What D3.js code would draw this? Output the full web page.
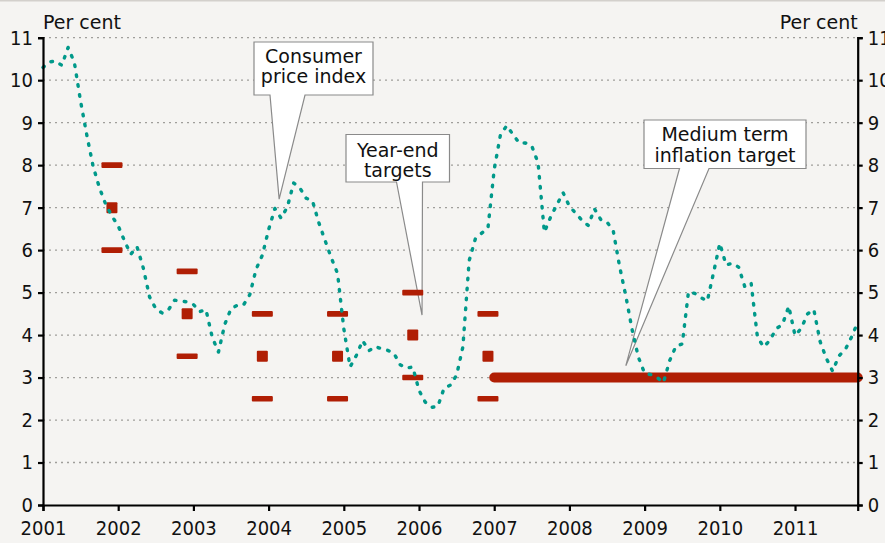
<!DOCTYPE html>
<html>
<head>
<meta charset="utf-8">
<script src="https://cdn.jsdelivr.net/npm/d3@7"></script>
<style>
  html, body { margin: 0; padding: 0; background: #f5f4f2; }
  svg { display: block; }
  text { font-family: "DejaVu Sans", Verdana, sans-serif; fill: #111; }
</style>
</head>
<body>
<div id="chart"></div>
<script>
// ---- Data ----
const startYear = 2001;             // first monthly observation: January 2001
const cpi = [                        // 12-month CPI inflation, per cent, Jan 2001 - Nov 2011
  10.3, 10.43, 10.45, 10.35, 10.77, 10.42, 9.5, 8.7, 7.97, 7.47, 7.08, 6.8,
  6.57, 6.22, 5.9, 6.08, 5.58, 4.9, 4.62, 4.52, 4.59, 4.82, 4.8, 4.78,
  4.72, 4.55, 4.6, 3.95, 3.6, 4.25, 4.62, 4.7, 4.71, 4.95, 5.55, 5.88,
  6.48, 6.98, 6.75, 7.02, 7.58, 7.46, 7.22, 7.16, 6.65, 6.23, 5.82, 5.45,
  4.15, 3.25, 3.52, 3.87, 3.63, 3.73, 3.68, 3.64, 3.57, 3.3, 3.22, 3.25,
  2.7, 2.42, 2.3, 2.32, 2.75, 2.82, 3.06, 3.72, 5.75, 6.27, 6.4, 6.52,
  7.9, 8.72, 8.93, 8.72, 8.52, 8.52, 8.45, 8.05, 6.42, 6.78, 7.07, 7.35,
  7.03, 6.87, 6.7, 6.58, 6.97, 6.72, 6.66, 6.45, 5.62, 4.92, 4.13, 3.48,
  3.1, 3.07, 3.0, 2.88, 3.4, 3.74, 3.79, 5.02, 4.98, 4.88, 4.8, 5.47,
  6.16, 5.65, 5.69, 5.6, 5.13, 5.22, 3.95, 3.72, 3.88, 4.15, 4.25, 4.68,
  3.99, 4.16, 4.5, 4.6, 3.85, 3.45, 3.15, 3.51, 3.65, 3.95, 4.3
];
const targetYears  = [2001, 2002, 2003, 2004, 2005, 2006];   // year-end (December) targets
const targetCentre = [7, 4.5, 3.5, 3.5, 4, 3.5];
const targetLow    = [6, 3.5, 2.5, 2.5, 3, 2.5];
const targetHigh   = [8, 5.5, 4.5, 4.5, 5, 4.5];
const mediumTarget = 3;
const mediumFrom = 2007;
const xTicks = [2001, 2002, 2003, 2004, 2005, 2006, 2007, 2008, 2009, 2010, 2011];
const yTicks = [0, 1, 2, 3, 4, 5, 6, 7, 8, 9, 10, 11];
const unitLabel = "Per cent";
const callouts = [
  { lines: ["Consumer", "price index"], tip: [2004.14, 7.2] },
  { lines: ["Year-end", "targets"], tip: [2006.04, 4.47] },
  { lines: ["Medium term", "inflation target"], tip: [2008.75, 3.28] }
];

// ---- Layout ----
const W = 885, H = 543;
const m = { left: 43, right: 885 - 857.7, top: 37.7, bottom: 543 - 505 };
const lastT = startYear + (cpi.length - 1) / 12;

const svg = d3.select("#chart").append("svg").attr("width", W).attr("height", H);
svg.append("rect").attr("width", W).attr("height", H).attr("fill", "#f5f4f2");
svg.append("line").attr("x1", 0).attr("x2", W).attr("y1", 0.75).attr("y2", 0.75)
  .attr("stroke", "#d3d0cc").attr("stroke-width", 1.5);

const x = d3.scaleLinear().domain([startYear, lastT]).range([m.left, W - m.right]);
const y = d3.scaleLinear().domain([0, 11]).range([H - m.bottom, m.top]);

// gridlines
svg.append("g").selectAll("line").data(yTicks.filter(d => d > 0)).join("line")
  .attr("x1", x.range()[0]).attr("x2", x.range()[1])
  .attr("y1", d => y(d)).attr("y2", d => y(d))
  .attr("stroke", "#a09e9b").attr("stroke-width", 1.3)
  .attr("stroke-dasharray", "2,4");

// callouts (box positions are layout, tips point into the data)
const boxes = [
  { x0: 254, y0: 42, x1: 373, y1: 95, b0: 270, b1: 305, ty: [62.5, 83] },
  { x0: 346, y0: 134.5, x1: 449.5, y1: 182, b0: 396.5, b1: 422.5, ty: [157, 177] },
  { x0: 644, y0: 120, x1: 806, y1: 168.5, b0: 679.5, b1: 709, ty: [141, 161.5] }
];
callouts.forEach((c, i) => {
  const b = boxes[i];
  const tx = x(c.tip[0]), ty = y(c.tip[1]);
  const p = `M${b.x0},${b.y0}H${b.x1}V${b.y1}H${b.b1}L${tx},${ty}L${b.b0},${b.y1}H${b.x0}Z`;
  svg.append("path").attr("d", p).attr("fill", "#fff")
    .attr("stroke", "#8a8a8a").attr("stroke-width", 1.2).attr("stroke-linejoin", "miter");
  c.lines.forEach((t, j) => {
    svg.append("text").attr("x", (b.x0 + b.x1) / 2).attr("y", b.ty[j])
      .attr("text-anchor", "middle").attr("font-size", 19).text(t);
  });
});

// year-end targets
const tg = svg.append("g").attr("fill", "#b01e04");
targetYears.forEach((yr, i) => {
  const cx = x(yr + 11 / 12);
  [targetLow[i], targetHigh[i]].forEach(v => {
    tg.append("rect").attr("x", cx - 10.5).attr("y", y(v) - 2.8)
      .attr("width", 21).attr("height", 5.6).attr("rx", 1);
  });
  tg.append("rect").attr("x", cx - 5.5).attr("y", y(targetCentre[i]) - 5.5)
    .attr("width", 11).attr("height", 11).attr("rx", 1);
});

// medium term target
svg.append("line")
  .attr("x1", x(mediumFrom)).attr("x2", x(lastT))
  .attr("y1", y(mediumTarget)).attr("y2", y(mediumTarget))
  .attr("stroke", "#b01e04").attr("stroke-width", 10).attr("stroke-linecap", "round");

// CPI dotted line
const line = d3.line().x((d, i) => x(startYear + i / 12)).y(d => y(d));
svg.append("path").datum(cpi).attr("d", line)
  .attr("fill", "none").attr("stroke", "#00998a").attr("stroke-width", 3.4)
  .attr("stroke-linecap", "round").attr("stroke-linejoin", "round")
  .attr("stroke-dasharray", "1.6,8.4");

// axes
const axStyle = g => {
  g.selectAll("path.domain").attr("stroke", "#000").attr("stroke-width", 2.2);
  g.selectAll(".tick line").attr("stroke", "#000").attr("stroke-width", 2.2);
  g.selectAll(".tick text").attr("font-size", 20).attr("fill", "#111")
    .attr("font-family", "'DejaVu Sans Condensed', 'DejaVu Sans', sans-serif")
    .style("font-stretch", "condensed");
};
svg.append("g").attr("transform", `translate(0,${y(0)})`)
  .call(d3.axisBottom(x).tickValues(xTicks).tickFormat(d3.format("d")).tickSizeOuter(0).tickSize(6).tickPadding(10))
  .call(axStyle);
svg.append("g").attr("transform", `translate(${x.range()[0]},0)`)
  .call(d3.axisLeft(y).tickValues(yTicks).tickSizeOuter(0).tickSize(5).tickPadding(5))
  .call(axStyle);
svg.append("g").attr("transform", `translate(${x.range()[1]},0)`)
  .call(d3.axisRight(y).tickValues(yTicks).tickSizeOuter(0).tickSize(5).tickPadding(5))
  .call(axStyle);

// unit labels
svg.append("text").attr("x", x.range()[0]).attr("y", 29).attr("font-size", 19).text(unitLabel);
svg.append("text").attr("x", x.range()[1]).attr("y", 29).attr("text-anchor", "end")
  .attr("font-size", 19).text(unitLabel);
</script>
</body>
</html>
